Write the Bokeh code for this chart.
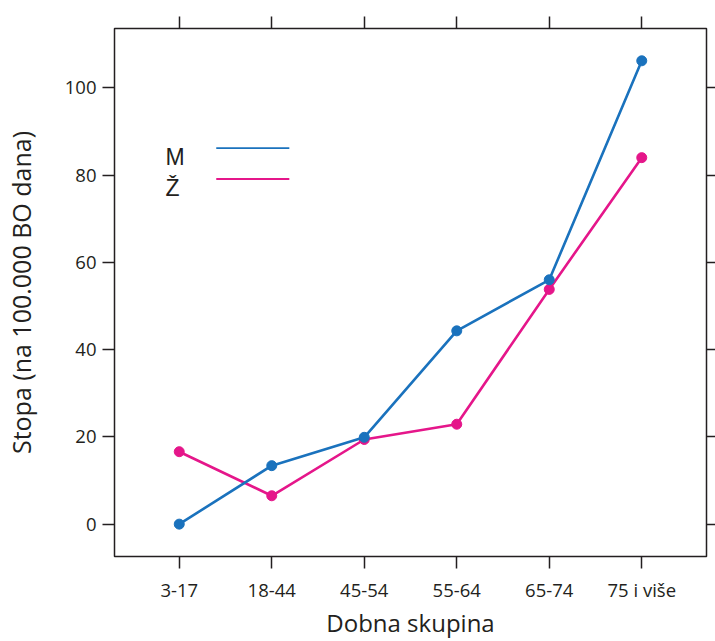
from bokeh.plotting import figure
from bokeh.models import (FactorRange, Range1d, FixedTicker, LinearAxis, CategoricalAxis,
                          ColumnDataSource)
from bokeh.core.properties import value
from bokeh.embed import file_html
from bokeh.resources import INLINE

# data
age_groups = ["3-17", "18-44", "45-54", "55-64", "65-74", "75 i više"]
rate_m = [0.0, 13.4, 19.9, 44.3, 56.0, 106.2]
rate_z = [16.6, 6.5, 19.4, 22.9, 53.8, 84.0]
series_labels = ["M", "Ž"]
y_ticks = [0, 20, 40, 60, 80, 100]
x_title = "Dobna skupina"
y_title = "Stopa (na 100.000 BO dana)"

BLUE = "#1a72bd"
PINK = "#e5168a"
INK = "#231f20"
FONT = "Open Sans"

p = figure(width=715, height=641, output_backend="svg", toolbar_location=None,
           x_range=FactorRange(factors=age_groups, range_padding=0.2,
                               range_padding_units="absolute"),
           y_range=Range1d(-7.42, 113.6),
           x_axis_location=None, y_axis_location=None,
           min_border_left=113, min_border_top=28, min_border_right=0, min_border_bottom=85)
p.grid.visible = False
p.outline_line_color = INK
p.outline_line_width = 1.5
p.background_fill_color = "white"
p.border_fill_color = "white"

bottom = CategoricalAxis(axis_label=x_title)
left = LinearAxis(ticker=FixedTicker(ticks=y_ticks), axis_label=y_title)
top = CategoricalAxis()
right = LinearAxis(ticker=FixedTicker(ticks=y_ticks))
p.add_layout(bottom, "below")
p.add_layout(left, "left")
p.add_layout(top, "above")
p.add_layout(right, "right")

for ax in [bottom, left, top, right]:
    ax.axis_line_color = None
    ax.major_tick_line_color = INK
    ax.major_tick_line_width = 1.5
    ax.major_tick_out = 12
    ax.major_tick_in = 0
    ax.minor_tick_line_color = None
    ax.minor_tick_out = 0
    ax.major_label_text_font = FONT
    ax.major_label_text_font_size = "18.5px"
    ax.major_label_text_color = INK
    ax.axis_label_text_font = FONT
    ax.axis_label_text_font_size = "25px"
    ax.axis_label_text_font_style = "normal"
    ax.axis_label_text_color = INK
top.major_label_text_font_size = "0px"
top.major_label_text_color = None
right.major_label_text_font_size = "0px"
right.major_label_text_color = None
for ax in [top, right]:
    ax.major_label_standoff = 0
right.major_tick_out = 9
bottom.major_label_standoff = 8
bottom.axis_label_text_font_size = "24px"
bottom.axis_label_standoff = 1
left.major_label_standoff = 6
left.axis_label_standoff = 24

src = ColumnDataSource(dict(x=age_groups, m=rate_m, z=rate_z))
p.line("x", "z", source=src, line_color=PINK, line_width=2.6)
p.scatter("x", "z", source=src, size=10, fill_color=PINK, line_color=PINK)
p.line("x", "m", source=src, line_color=BLUE, line_width=2.6)
p.scatter("x", "m", source=src, size=10, fill_color=BLUE, line_color=BLUE)

# key (label left of line), in synthetic categorical coordinates
key = ColumnDataSource(dict(tx=[0.35, 0.35], ty=[84.2, 77.1],
                            x0=[0.9, 0.9], x1=[1.69, 1.69], ly=[86.2, 79.1],
                            txt=series_labels, col=[BLUE, PINK]))
p.text("tx", "ty", text="txt", source=key, text_font=value("Liberation Sans"),
       text_font_size="23px", text_color=INK, text_baseline="alphabetic")
p.segment("x0", "ly", "x1", "ly", source=key, line_color="col", line_width=1.8)

open("out.html", "w").write(file_html(p, INLINE))
